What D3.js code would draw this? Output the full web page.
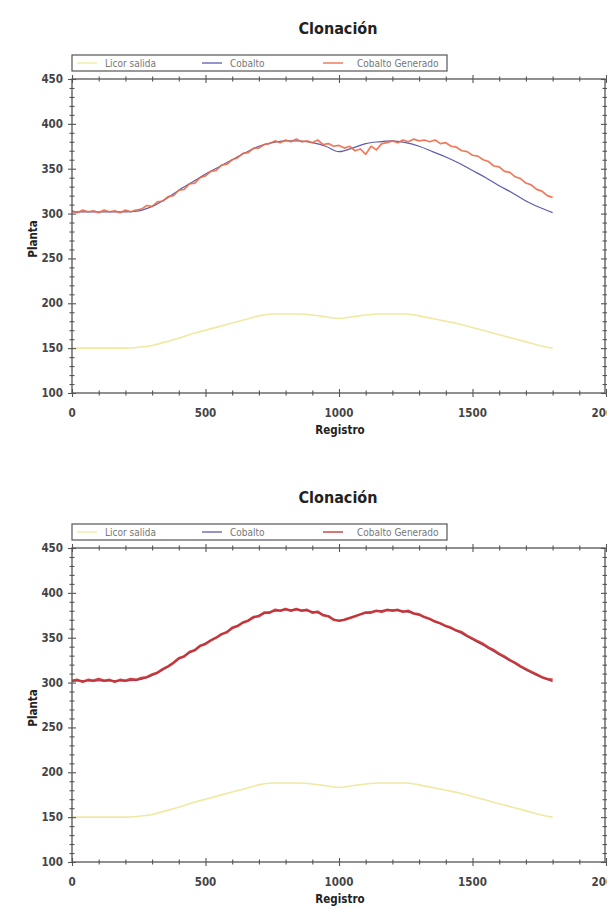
<!DOCTYPE html>
<html lang="es">
<head>
<meta charset="utf-8">
<title>Clonación</title>
<script src="https://d3js.org/d3.v7.min.js"></script>
<style>
  body { margin: 0; background: #fff; }
  svg { display: block; }
  text { font-family: "Liberation Sans Narrow", "Arial Narrow", "DejaVu Sans Condensed", sans-serif; }
  .title { font-size: 16px; font-weight: bold; fill: #222; }
  .axisLabel { font-size: 11.5px; font-weight: bold; fill: #222; }
  .tickLabel { font-size: 11.5px; font-weight: bold; fill: #444; }
  .legendText { font-size: 10px; fill: #777; }
  .frame path { display: none; }
  .frame line { stroke: #555; stroke-width: 1.1px; }
</style>
</head>
<body>
<div class="chart"></div>
<script>
// smooth series, every 50 registros
var registro = [0, 50, 100, 150, 200, 250, 300, 350, 400, 450, 500, 550, 600, 650, 700, 750, 800, 850,
    900, 950, 1000, 1050, 1100, 1150, 1200, 1250, 1300, 1350, 1400, 1450, 1500, 1550, 1600, 1650, 1700, 1750, 1800];

var licorSalida = [150, 150, 150, 150, 150, 151, 153, 157, 161, 166, 170, 174, 178, 182, 186, 188, 188, 188,
    187, 185, 183, 185, 187, 188, 188, 188, 186, 183, 180, 177, 173, 169, 165, 161, 157, 153, 150];

var cobalto = [302, 302, 302, 302, 302, 303, 308, 316, 326, 335, 344, 352, 360, 368, 375, 379, 381, 381,
    379, 375, 369, 373, 378, 380, 381, 379, 375, 369, 363, 356, 348, 340, 331, 323, 314, 307, 301];

// generated series, every 20 registros
var registroGen = d3.range(0, 1801, 20);

var cobaltoGenTop = [
    303, 301, 304, 302, 303, 301, 304, 302, 303, 301,
    304, 302, 304, 305, 309, 308, 313, 314, 319, 320,
    326, 327, 333, 334, 340, 342, 347, 348, 354, 355,
    360, 362, 367, 368, 373, 373, 377, 378, 381, 379,
    382, 380, 383, 380, 381, 379, 382, 377, 378, 375,
    376, 373, 375, 370, 372, 366, 375, 371, 378, 379,
    381, 379, 382, 380, 383, 381, 382, 380, 382, 378,
    379, 375, 374, 370, 369, 365, 364, 360, 358, 353,
    352, 347, 346, 341, 339, 334, 332, 327, 325, 320,
    318];

var cobaltoGenBottom = [
    302, 303, 301, 303, 302, 304, 302, 303, 301, 303,
    302, 304, 303, 305, 306, 309, 311, 315, 318, 322,
    327, 329, 334, 336, 341, 343, 347, 350, 354, 356,
    361, 363, 367, 369, 373, 374, 378, 378, 381, 380,
    382, 380, 382, 380, 381, 378, 379, 375, 374, 370,
    369, 370, 372, 374, 376, 378, 378, 380, 379, 381,
    380, 381, 379, 380, 377, 376, 373, 371, 368, 366,
    363, 361, 358, 356, 352, 349, 346, 343, 339, 336,
    332, 329, 325, 322, 318, 315, 312, 309, 306, 304,
    303];

var legendNames = ["Licor salida", "Cobalto", "Cobalto Generado"];
var xTicks = [0, 500, 1000, 1500, 2000];
var yTicks = [100, 150, 200, 250, 300, 350, 400, 450];

var width = 607, height = 909;
var svg = d3.select(".chart").append("svg")
    .attr("width", width)
    .attr("height", height);

var colYellow = "#efe9a2", colBlue = "#5c5cb0";

function drawPanel(top, genValues, genColor, genWidth) {
    var x = d3.scaleLinear().domain([0, 2000]).range([72, 606]);
    var y = d3.scaleLinear().domain([100, 450]).range([top + 314, top]);

    var g = svg.append("g");

    // title
    g.append("text").attr("class", "title")
        .attr("x", 338).attr("y", top - 45)
        .attr("text-anchor", "middle")
        .text("Clonación");

    // legend
    g.append("rect")
        .attr("x", 72).attr("y", top - 24)
        .attr("width", 375).attr("height", 16)
        .attr("fill", "none").attr("stroke", "#555").attr("stroke-width", 1.2);
    var legCols = [colYellow, colBlue, genColor];
    var legX = [77, 202, 323];
    var legTextX = [105, 230, 357];
    legendNames.forEach(function(name, i) {
        g.append("line")
            .attr("x1", legX[i]).attr("x2", legX[i] + 20)
            .attr("y1", top - 16).attr("y2", top - 16)
            .attr("stroke", legCols[i]).attr("stroke-width", 1.3);
        g.append("text").attr("class", "legendText")
            .attr("x", legTextX[i]).attr("y", top - 12.5)
            .text(name);
    });

    // lines
    var smooth = d3.line()
        .x(function(d, i) { return x(registro[i]); })
        .y(function(d) { return y(d); })
        .curve(d3.curveMonotoneX);
    var rough = d3.line()
        .x(function(d, i) { return x(registroGen[i]); })
        .y(function(d) { return y(d); });

    g.append("path").attr("d", smooth(licorSalida))
        .attr("fill", "none").attr("stroke", colYellow).attr("stroke-width", 1.6);
    g.append("path").attr("d", smooth(cobalto))
        .attr("fill", "none").attr("stroke", colBlue).attr("stroke-width", 1.2);
    g.append("path").attr("d", rough(genValues))
        .attr("fill", "none").attr("stroke", genColor).attr("stroke-width", genWidth)
        .attr("stroke-linejoin", "round").attr("opacity", 0.9);

    // axes: ticks cross the frame lines
    var xMinor = d3.range(0, 2001, 100), yMinor = d3.range(100, 451, 10);
    function crossX(sel) {
        sel.selectAll(".tick line")
            .attr("y1", function(d) { return d % 500 === 0 ? -4 : -2.5; })
            .attr("y2", function(d) { return d % 500 === 0 ? 4 : 2.5; });
        sel.selectAll(".tick text").remove();
    }
    function crossY(sel) {
        sel.selectAll(".tick line")
            .attr("x1", function(d) { return d % 50 === 0 ? -4 : -2.5; })
            .attr("x2", function(d) { return d % 50 === 0 ? 4 : 2.5; });
        sel.selectAll(".tick text").remove();
    }
    g.append("g").attr("class", "frame").attr("transform", "translate(0," + y(100) + ")")
        .call(d3.axisBottom(x).tickValues(xMinor)).call(crossX);
    g.append("g").attr("class", "frame").attr("transform", "translate(0," + y(450) + ")")
        .call(d3.axisTop(x).tickValues(xMinor)).call(crossX);
    g.append("g").attr("class", "frame").attr("transform", "translate(" + x(0) + ",0)")
        .call(d3.axisLeft(y).tickValues(yMinor)).call(crossY);
    g.append("g").attr("class", "frame").attr("transform", "translate(" + (x(2000) - 1) + ",0)")
        .call(d3.axisRight(y).tickValues(yMinor)).call(crossY);

    // frame lines
    g.append("rect")
        .attr("x", x(0)).attr("y", y(450))
        .attr("width", x(2000) - 1 - x(0)).attr("height", y(100) - y(450))
        .attr("fill", "none").attr("stroke", "#555").attr("stroke-width", 1.3);

    // tick labels ("2000" runs off the right edge, as in the original)
    g.selectAll(".xLab").data(xTicks).enter().append("text")
        .attr("class", "tickLabel")
        .attr("x", function(d) { return x(d); })
        .attr("y", y(100) + 24)
        .attr("text-anchor", "middle")
        .text(function(d) { return d; });
    g.selectAll(".yLab").data(yTicks).enter().append("text")
        .attr("class", "tickLabel")
        .attr("x", 63)
        .attr("y", function(d) { return y(d) + 4; })
        .attr("text-anchor", "end")
        .text(function(d) { return d; });

    // axis titles
    g.append("text").attr("class", "axisLabel")
        .attr("x", 340).attr("y", y(100) + 41)
        .attr("text-anchor", "middle")
        .text("Registro");
    g.append("text").attr("class", "axisLabel")
        .attr("transform", "translate(37," + (top + 160) + ") rotate(-90)")
        .attr("text-anchor", "middle")
        .text("Planta");
}

drawPanel(79, cobaltoGenTop, "#ee6a48", 1.7);
drawPanel(548, cobaltoGenBottom, "#c92b2b", 2.6);
</script>
</body>
</html>
